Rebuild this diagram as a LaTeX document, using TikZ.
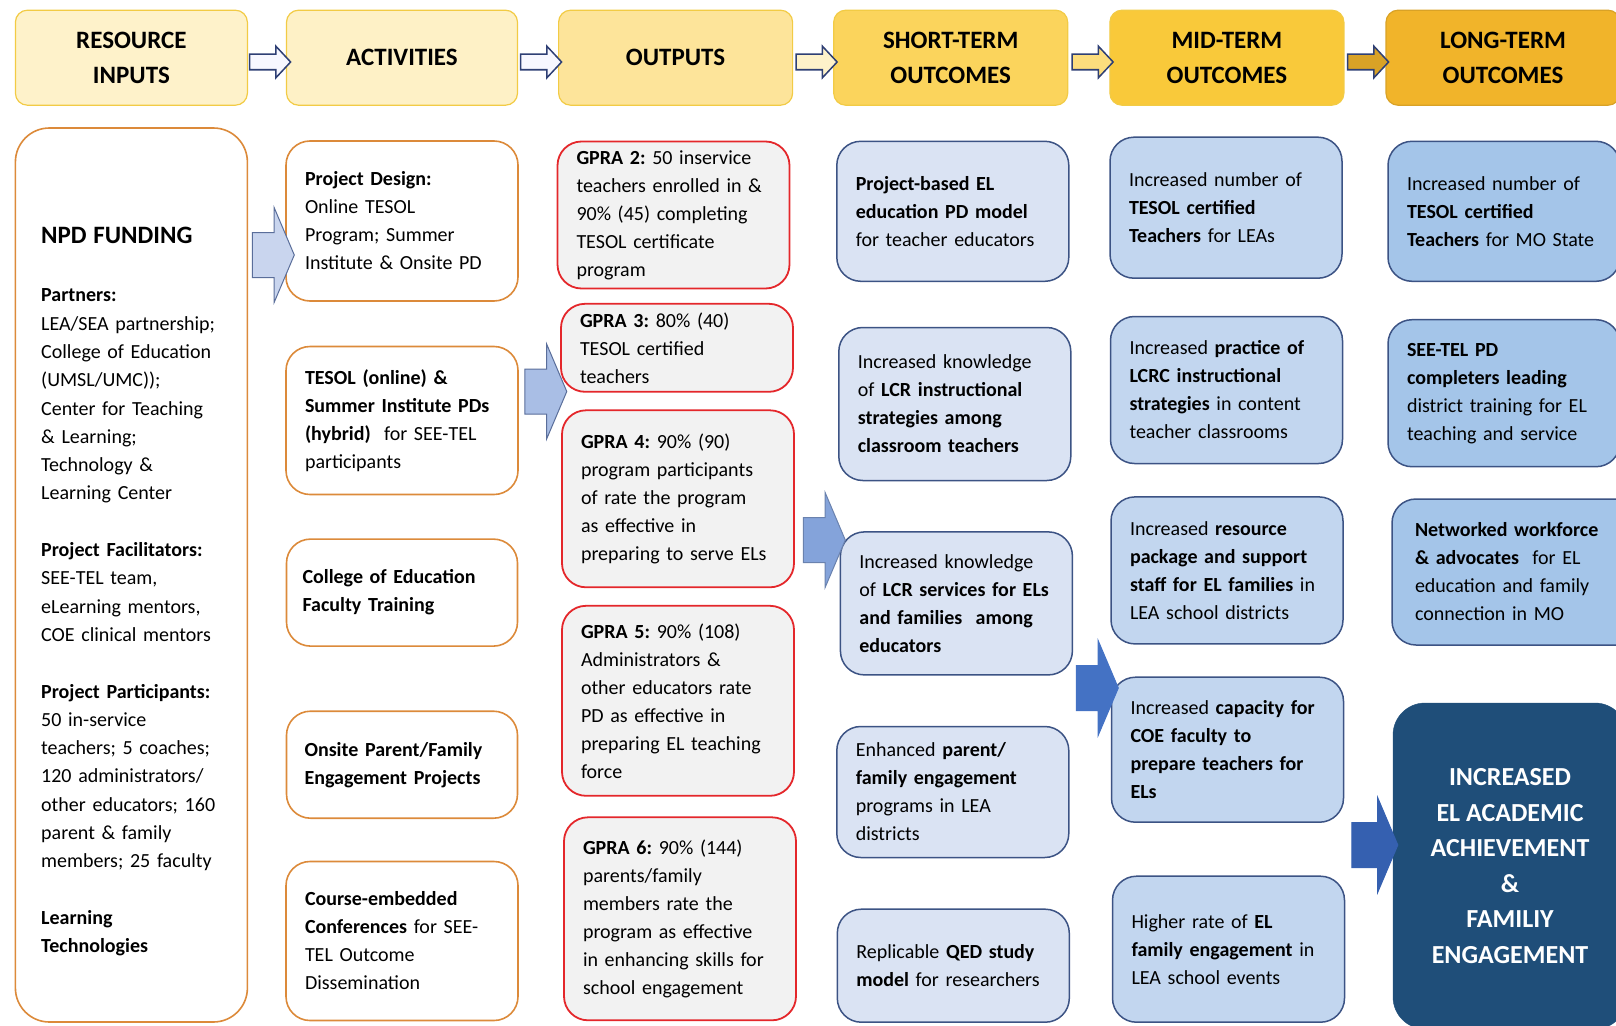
\documentclass[tikz,border=0pt]{standalone}
\usepackage{fontspec}
\setmainfont{Carlito}
\usetikzlibrary{shapes.arrows}

\definecolor{hdrline}{HTML}{F2CB45}
\definecolor{resfill}{HTML}{FEF2CA}
\definecolor{actfill}{HTML}{FEF1C6}
\definecolor{outfill}{HTML}{FDE49A}
\definecolor{stfill}{HTML}{FBD45C}
\definecolor{mtfill}{HTML}{F9C93A}
\definecolor{ltfill}{HTML}{F1B42A}
\definecolor{orangeline}{HTML}{DC8A3A}
\definecolor{redline}{HTML}{E4272B}
\definecolor{grayfill}{HTML}{F2F2F2}
\definecolor{blueline}{HTML}{3C5384}
\definecolor{shortfill}{HTML}{DAE3F3}
\definecolor{midfill}{HTML}{C2D6EF}
\definecolor{longfill}{HTML}{A4C5E9}
\definecolor{goalfill}{HTML}{1F4E79}
\definecolor{arrline}{HTML}{2E3F74}
\definecolor{arrowA}{HTML}{C9D5EE}
\definecolor{arrowB}{HTML}{A9BEE5}
\definecolor{arrowC}{HTML}{84A3DA}
\definecolor{arrowD}{HTML}{4472C4}
\definecolor{arrowE}{HTML}{3560B0}
\definecolor{arrowline}{HTML}{5A6E9A}

\begin{document}
\frenchspacing
\begin{tikzpicture}[x=1pt, y=-1pt,
  hdr/.style={draw=hdrline, line width=1.2pt, rounded corners=12pt,
    minimum width=234pt, minimum height=95pt, align=center, inner sep=0pt,
    font=\fontsize{25}{35}\selectfont\bfseries},
  box/.style={rounded corners=24pt, minimum width=232pt, align=left,
    text width=194pt, inner xsep=19pt, inner ysep=0pt,
    font=\fontsize{20}{28}\selectfont},
  actbox/.style={box, draw=orangeline, fill=white, line width=1.6pt},
  outbox/.style={box, draw=redline, fill=grayfill, line width=1.8pt},
  stbox/.style={box, draw=blueline, fill=shortfill, line width=1.5pt},
  mtbox/.style={box, draw=blueline, fill=midfill, line width=1.5pt},
  ltbox/.style={box, draw=blueline, fill=longfill, line width=1.5pt},
  hdrarrow/.style={single arrow, draw=arrline, fill=#1, line width=1.5pt,
    inner xsep=0pt, inner ysep=7pt, single arrow head extend=8pt,
    single arrow tip angle=94, minimum height=41pt},
  bodyarrow/.style={single arrow, draw=arrowline, fill=#1, line width=1pt,
    inner xsep=0pt, inner ysep=22pt, single arrow head extend=25pt,
    single arrow tip angle=134, minimum height=42pt}
]
\clip (0,0) rectangle (1616,1025);

% column headers
\node[hdr, fill=resfill, minimum width=232pt] (res) at (131.4,57.7) {RESOURCE\\INPUTS};
\node[hdr, fill=actfill, minimum width=231pt] (act) at (402,57.7) {ACTIVITIES};
\node[hdr, fill=outfill] (out) at (675.6,57.7) {OUTPUTS};
\node[hdr, fill=stfill] (st) at (950.7,57.7) {SHORT-TERM\\OUTCOMES};
\node[hdr, fill=mtfill] (mt) at (1226.9,57.7) {MID-TERM\\OUTCOMES};
\node[hdr, fill=ltfill, draw=ltfill!90!black] (lt) at (1503,57.7) {LONG-TERM\\OUTCOMES};

% header arrows
\node[hdrarrow=white!97!blue] (h1) at (266.5,62) {};
\node[hdrarrow=white!97!blue] (h2) at (537.5,62) {};
\node[hdrarrow=resfill] (h3) at (813,62) {};
\node[hdrarrow=stfill!80!white] (h4) at (1089,62) {};
\node[hdrarrow=ltfill!90!black] (h5) at (1364.5,62) {};

% resource inputs
\node[draw=orangeline, line width=1.6pt, rounded corners=34pt, fill=white,
  minimum width=232pt, minimum height=894pt] (fund) at (131.4,575) {};
\node[anchor=north west, inner sep=0pt, align=left, text width=200pt,
  font=\fontsize{20}{28.3}\selectfont] (fundtxt) at (41,227)
  {{\fontsize{25}{28}\selectfont\bfseries NPD FUNDING}\\[30pt]
   \textbf{Partners:}\\
   LEA/SEA partnership;\\
   College of Education\\
   (UMSL/UMC));\\
   Center for Teaching\\
   \& Learning;\\
   Technology \&\\
   Learning Center\\[28.3pt]
   \textbf{Project Facilitators:}\\
   SEE-TEL team,\\
   eLearning mentors,\\
   COE clinical mentors\\[28.3pt]
   \textbf{Project Participants:}\\
   50 in-service\\
   teachers; 5 coaches;\\
   120 administrators/\\
   other educators; 160\\
   parent \& family\\
   members; 25 faculty\\[28.3pt]
   \textbf{Learning}\\
   \textbf{Technologies}};

% activities
\node[actbox, minimum width=231pt, minimum height=160pt] (pd) at (402,221)
  {\textbf{Project Design:}\\Online TESOL\\Program; Summer\\Institute \& Onsite PD};
\node[actbox, minimum width=231pt, minimum height=148pt] (tesol) at (402,420.5)
  {\textbf{TESOL (online) \&}\\\textbf{Summer Institute PDs}\\\textbf{(hybrid)}\ \ for SEE-TEL\\participants};
\node[actbox, minimum width=231pt, minimum height=107pt, inner xsep=16pt, text width=199pt] (coe) at (402,592.6)
  {\textbf{College of Education}\\\textbf{Faculty Training}};
\node[actbox, minimum width=231pt, minimum height=107pt, inner xsep=18pt, text width=195pt] (onsite) at (402,764.7)
  {\textbf{Onsite Parent/Family}\\\textbf{Engagement Projects}};
\node[actbox, minimum width=231pt, minimum height=159pt] (conf) at (402,941)
  {\textbf{Course-embedded}\\\textbf{Conferences} for SEE-\\TEL Outcome\\Dissemination};

% outputs
\node[outbox, minimum height=147pt] (g2) at (673.5,215)
  {\textbf{GPRA 2:} 50 inservice\\teachers enrolled in \&\\90\% (45) completing\\TESOL certificate\\program};
\node[outbox, minimum height=88pt] (g3) at (677,347.8)
  {\textbf{GPRA 3:} 80\% (40)\\TESOL certified\\teachers};
\node[outbox, minimum width=231pt, minimum height=177pt] (g4) at (678,498.8)
  {\textbf{GPRA 4:} 90\% (90)\\program participants\\of rate the program\\as effective in\\preparing to serve ELs};
\node[outbox, minimum width=231pt, minimum height=190pt] (g5) at (678,700.8)
  {\textbf{GPRA 5:} 90\% (108)\\Administrators \&\\other educators rate\\PD as effective in\\preparing EL teaching\\force};
\node[outbox, minimum width=231pt, minimum height=203pt] (g6) at (680,918.8)
  {\textbf{GPRA 6:} 90\% (144)\\parents/family\\members rate the\\program as effective\\in enhancing skills for\\school engagement};

% short-term outcomes
\node[stbox, minimum height=140pt] (s1) at (952.8,211.3)
  {\textbf{Project-based EL}\\\textbf{education PD model}\\for teacher educators};
\node[stbox, minimum height=153pt] (s2) at (954.8,404)
  {Increased knowledge\\of \textbf{LCR instructional}\\\textbf{strategies among}\\\textbf{classroom teachers}};
\node[stbox, minimum height=143pt] (s3) at (956.4,603.4)
  {Increased knowledge\\of \textbf{LCR services for ELs}\\\textbf{and families\ \ among}\\\textbf{educators}};
\node[stbox, minimum height=131pt] (s4) at (952.8,792)
  {Enhanced \textbf{parent/}\\\textbf{family engagement}\\programs in LEA\\districts};
\node[stbox, minimum height=113pt] (s5) at (953.3,965.7)
  {Replicable \textbf{QED study}\\\textbf{model} for researchers};

% mid-term outcomes
\node[mtbox, minimum height=141pt] (m1) at (1226,207.7)
  {Increased number of\\\textbf{TESOL certified}\\\textbf{Teachers} for LEAs};
\node[mtbox, minimum height=147pt] (m2) at (1226.5,390)
  {Increased \textbf{practice of}\\\textbf{LCRC instructional}\\\textbf{strategies} in content\\teacher classrooms};
\node[mtbox, minimum height=147pt] (m3) at (1227,570.4)
  {Increased \textbf{resource}\\\textbf{package and support}\\\textbf{staff for EL families} in\\LEA school districts};
\node[mtbox, minimum height=145pt] (m4) at (1227.5,749.7)
  {Increased \textbf{capacity for}\\\textbf{COE faculty to}\\\textbf{prepare teachers for}\\\textbf{ELs}};
\node[mtbox, minimum height=146pt] (m5) at (1228.5,949.2)
  {Higher rate of \textbf{EL}\\\textbf{family engagement} in\\LEA school events};

% long-term outcomes
\node[ltbox, minimum height=140pt] (l1) at (1504,211.3)
  {Increased number of\\\textbf{TESOL certified}\\\textbf{Teachers} for MO State};
\node[ltbox, minimum height=147pt] (l2) at (1504,393.2)
  {\textbf{SEE-TEL PD}\\\textbf{completers leading}\\district training for EL\\teaching and service};
\node[ltbox, minimum height=146pt, inner xsep=23pt, text width=210pt] (l3) at (1520,572)
  {\textbf{Networked workforce}\\\textbf{\& advocates}\ \ for EL\\education and family\\connection in MO};
\node[draw=goalfill, fill=goalfill, rounded corners=32pt, minimum width=234pt,
  minimum height=326pt, align=center, text=white,
  font=\fontsize{26}{35.5}\selectfont\bfseries] (goal) at (1510,866)
  {INCREASED\\EL ACADEMIC\\ACHIEVEMENT\\\&\\FAMILIY\\ENGAGEMENT};

% arrows between columns
\node[bodyarrow=arrowA] (b1) at (268.5,255) {};
\node[bodyarrow=arrowB] (b2) at (541,391.5) {};
\node[bodyarrow=arrowC, draw=arrowC!80!black] (b3) at (819.5,540) {};
\node[bodyarrow=arrowD, draw=arrowD] (b4) at (1092.5,688) {};
\node[bodyarrow=arrowE, draw=arrowE, minimum height=46pt] (b5) at (1370,845) {};
\end{tikzpicture}
\end{document}
